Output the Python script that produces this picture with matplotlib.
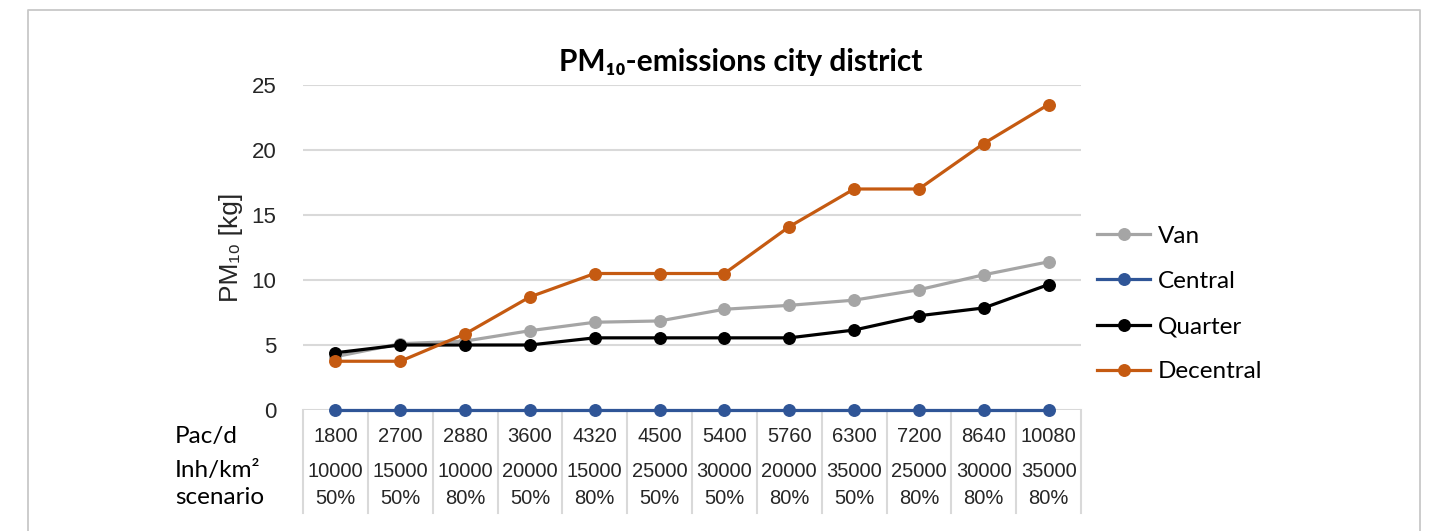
import numpy as np
import matplotlib.pyplot as plt
from matplotlib.lines import Line2D
import matplotlib.transforms as mtransforms

pac = ['1800', '2700', '2880', '3600', '4320', '4500', '5400', '5760', '6300', '7200', '8640', '10080']
inh = ['10000', '15000', '10000', '20000', '15000', '25000', '30000', '20000', '35000', '25000', '30000', '35000']
scen = ['50%', '50%', '80%', '50%', '80%', '50%', '50%', '80%', '50%', '80%', '80%', '80%']

van = [4.1, 5.1, 5.3, 6.1, 6.75, 6.85, 7.75, 8.05, 8.45, 9.25, 10.4, 11.4]
central = [0] * 12
quarter = [4.4, 5.0, 5.0, 5.0, 5.55, 5.55, 5.55, 5.55, 6.15, 7.25, 7.85, 9.65]
decentral = [3.75, 3.75, 5.85, 8.7, 10.5, 10.5, 10.5, 14.1, 17.0, 17.0, 20.5, 23.5]

W, H = 1445, 531
fig = plt.figure(figsize=(W / 100, H / 100), dpi=100)

# outer frame (open at bottom)
fx0, fx1, fy = 28 / W, 1420 / W, 1 - 10 / H
fig.add_artist(Line2D([fx0, fx0, fx1, fx1], [0, fy, fy, 0], color='#c8c8c8', lw=1.3,
                      transform=fig.transFigure))

ax = fig.add_axes([303 / W, (H - 410) / H, 778 / W, 325 / H])
x = np.arange(len(pac))

arial = ['Liberation Sans', 'DejaVu Sans']
calibri = ['Lato', 'DejaVu Sans']

ax.plot(x, van, color='#a5a5a5', lw=2.3, marker='o', ms=8.3, label='Van', zorder=3)
ax.plot(x, central, color='#2f5597', lw=2.3, marker='o', ms=8.3, label='Central', zorder=3, clip_on=False)
ax.plot(x, quarter, color='#000000', lw=2.3, marker='o', ms=8.3, label='Quarter', zorder=4)
ax.plot(x, decentral, color='#c55a11', lw=2.3, marker='o', ms=8.3, label='Decentral', zorder=5)

ax.set_xlim(-0.5, len(pac) - 0.5)
ax.set_ylim(0, 25)
ax.set_yticks([0, 5, 10, 15, 20, 25])
ax.grid(axis='y', color='#d9d9d9', lw=1.5)
ax.set_axisbelow(True)
for s in ax.spines.values():
    s.set_visible(False)
ax.tick_params(axis='y', length=0, pad=19, labelsize=16, labelcolor='#262626')
ax.tick_params(axis='x', length=0, labelbottom=False)
for lab in ax.get_yticklabels():
    lab.set_family(arial)

ax.set_ylabel('PM₁₀ [kg]', fontsize=19, family=arial, color='#262626', labelpad=6)

# table below the axis
trans = mtransforms.blended_transform_factory(ax.transData, ax.transAxes)
for b in np.arange(-0.5, len(pac), 1.0):
    ax.plot([b, b], [0, -0.317], color='#d9d9d9', lw=1.5, transform=trans, clip_on=False)
for i in x:
    ax.text(i, -0.08, pac[i], ha='center', va='center', fontsize=14.5, family=arial,
            color='#262626', transform=trans)
    ax.text(i, -0.19, inh[i], ha='center', va='center', fontsize=14.5, family=arial,
            color='#262626', transform=trans)
    ax.text(i, -0.272, scen[i], ha='center', va='center', fontsize=14.5, family=arial,
            color='#262626', transform=trans)

for lbl, yy in [('Pac/d', 436), ('Inh/km²', 470), ('scenario', 497)]:
    fig.text(175 / W, 1 - yy / H, lbl, ha='left', va='center', fontsize=17.5, family=calibri)

fig.text(741 / W, 1 - 62 / H, 'PM₁₀-emissions city district', ha='center', va='center',
         fontsize=21.5, fontweight='bold', family=calibri)

ax.legend(loc='center left', bbox_to_anchor=(1075 / W, 1 - 304 / H), bbox_transform=fig.transFigure,
          frameon=False, prop={'family': calibri, 'size': 17.5}, handlelength=2.2,
          labelspacing=1.0, handletextpad=0.3)

fig.savefig('out.png', dpi=100)
